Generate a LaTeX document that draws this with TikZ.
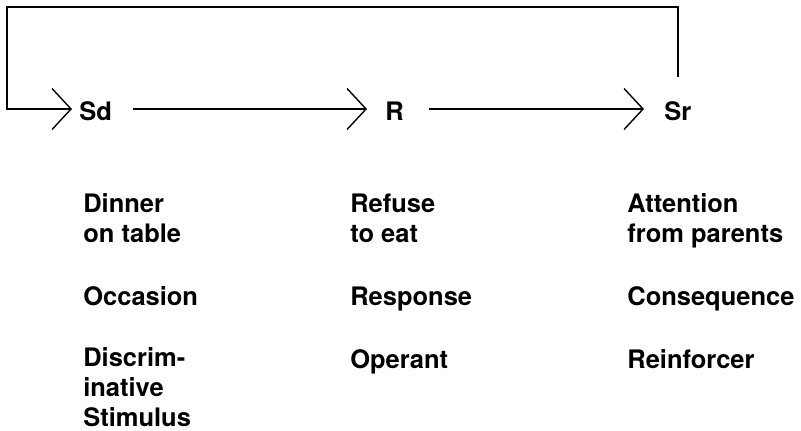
\documentclass[tikz,border=0pt]{standalone}
\usepackage{fontspec}
\setmainfont{TeX Gyre Heros}
\usetikzlibrary{arrows.meta}

\tikzset{
  label/.style={font=\bfseries\fontsize{14.5}{17.07}\selectfont, inner sep=0pt},
  term/.style={label, text height=0.44cm, text depth=0pt, anchor=base west},
  % base of a multi-line note sits on its last line
  note/.style={label, align=left, anchor=base west},
  flow/.style={line width=0.8pt, -{Straight Barb[length=0.38cm, width=0.82cm]}}
}

\begin{document}
\begin{tikzpicture}[x=0.02cm, y=-0.02cm]
  \useasboundingbox (0,0) rectangle (801,430);
  % === Kette Sd -> R -> Sr ===
  \node[term] (sd) at (79,120) {Sd};
  \node[term] (r) at (385,120) {R};
  \node[term] (sr) at (664,120) {Sr};
  \draw[flow, shorten <=0.42cm, shorten >=0.36cm] (sd.east) -- (r.west);
  \draw[flow, shorten <=0.5cm, shorten >=0.4cm] (r.east) -- (sr.west);
  % === Rueckkopplung Sr -> Sd ===
  \coordinate (loop) at (7,7);
  \draw[flow, shorten <=0.42cm, shorten >=0.14cm]
    (sr.north) |- (loop) |- (sd.west);
  % === Spalte Sd ===
  \node[note] (sd-cue) at (83,242) {Dinner\\on table};
  \node[note] (sd-role) at (83,305) {Occasion};
  \node[note] (sd-kind) at (83,426) {Discrim-\\inative\\Stimulus};
  % === Spalte R ===
  \node[note] (r-cue) at (350,242) {Refuse\\to eat};
  \node[note] (r-role) at (350,305) {Response};
  \node[note] (r-kind) at (350,368) {Operant};
  % === Spalte Sr ===
  \node[note] (sr-cue) at (627,242) {Attention\\from parents};
  \node[note] (sr-role) at (627,305) {Consequence};
  \node[note] (sr-kind) at (627,368) {Reinforcer};
\end{tikzpicture}
\end{document}
